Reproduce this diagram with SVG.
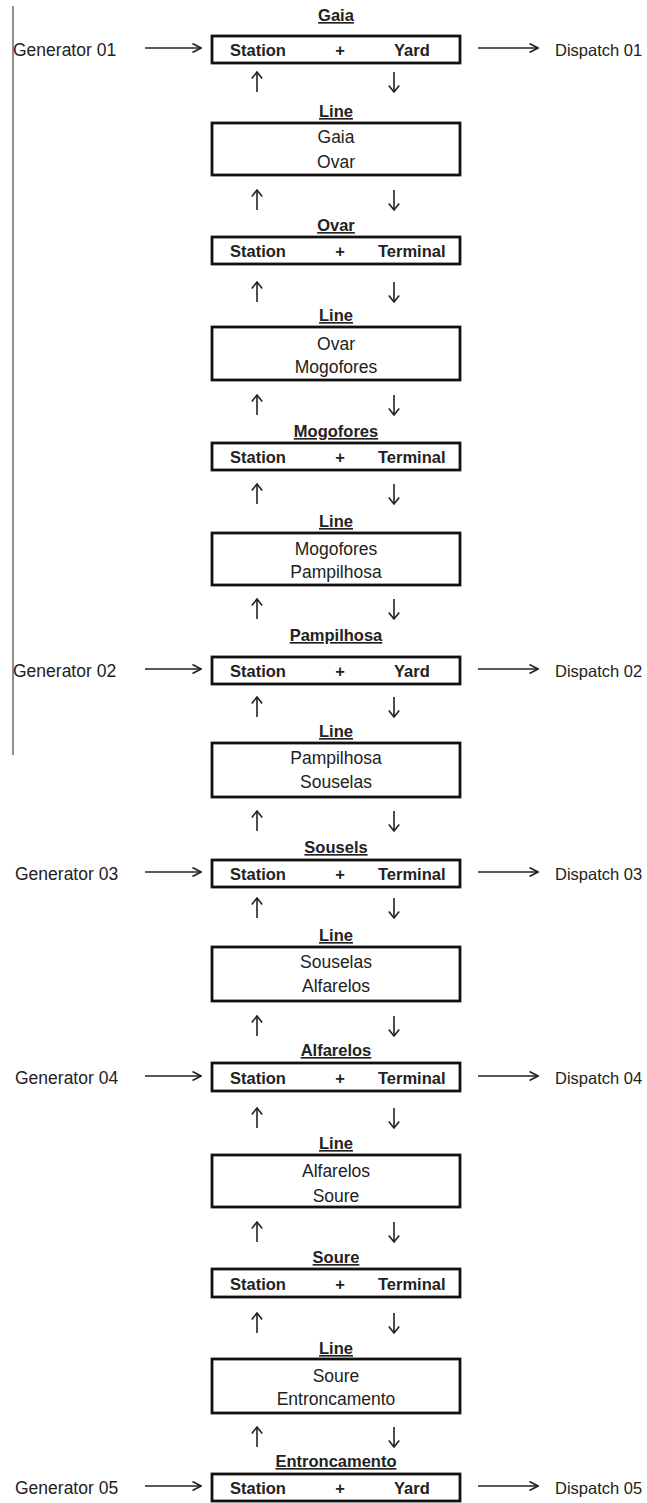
<svg xmlns="http://www.w3.org/2000/svg" width="647" height="1503" viewBox="0 0 647 1503">
<defs>
<style>
.bg{fill:#fff}
.box{fill:#fff;stroke:#111;stroke-width:2.8}
.t{font-family:"Liberation Sans",Arial,sans-serif;fill:#222}
.b{font-weight:bold;font-size:16.5px}
.r{font-size:17.5px}
.d{font-size:16.5px}
.m{text-anchor:middle}
.ttl{font-weight:bold;font-size:16.5px;text-anchor:middle;text-decoration:underline}
.arr{stroke:#222;stroke-width:1.6;fill:none;marker-end:url(#ah)}
.harr{stroke:#222;stroke-width:1.6;fill:none;marker-end:url(#ahh)}
.rule{stroke:#444;stroke-width:1.2}
</style>
<marker id="ah" viewBox="0 0 8 12" refX="7" refY="6" markerWidth="8" markerHeight="12" markerUnits="userSpaceOnUse" orient="auto">
<path d="M0.5,0.8 L7,6 L0.5,11.2" fill="none" stroke="#222" stroke-width="1.6"/>
</marker>
<marker id="ahh" viewBox="0 0 10 10" refX="9" refY="5" markerWidth="10" markerHeight="10" markerUnits="userSpaceOnUse" orient="auto">
<path d="M0.5,0.5 L9,5 L0.5,9.5" fill="none" stroke="#222" stroke-width="1.6"/>
</marker>
</defs>
<rect class="bg" width="647" height="1503"/>
<line class="rule" x1="13" y1="6" x2="13" y2="755"/>

<g id="gaia">
<text class="t ttl" x="336" y="21">Gaia</text>
<rect class="box" x="212" y="36" width="248" height="27"/>
<text class="t b" x="230" y="56">Station</text><text class="t b m" x="340" y="56">+</text><text class="t b" x="394" y="56">Yard</text>
</g>
<g id="line1">
<text class="t ttl" x="336" y="117">Line</text>
<rect class="box" x="212" y="123" width="248" height="52"/>
<text class="t r m" x="336" y="143">Gaia</text><text class="t r m" x="336" y="168">Ovar</text>
</g>
<g id="ovar">
<text class="t ttl" x="336" y="231">Ovar</text>
<rect class="box" x="212" y="237" width="248" height="27"/>
<text class="t b" x="230" y="257">Station</text><text class="t b m" x="340" y="257">+</text><text class="t b" x="378" y="257">Terminal</text>
</g>
<g id="line2">
<text class="t ttl" x="336" y="321">Line</text>
<rect class="box" x="212" y="327" width="248" height="53"/>
<text class="t r m" x="336" y="350">Ovar</text><text class="t r m" x="336" y="373">Mogofores</text>
</g>
<g id="mogofores">
<text class="t ttl" x="336" y="437">Mogofores</text>
<rect class="box" x="212" y="443" width="248" height="27"/>
<text class="t b" x="230" y="463">Station</text><text class="t b m" x="340" y="463">+</text><text class="t b" x="378" y="463">Terminal</text>
</g>
<g id="line3">
<text class="t ttl" x="336" y="527">Line</text>
<rect class="box" x="212" y="533" width="248" height="52"/>
<text class="t r m" x="336" y="555">Mogofores</text><text class="t r m" x="336" y="578">Pampilhosa</text>
</g>
<g id="pampilhosa">
<text class="t ttl" x="336" y="641">Pampilhosa</text>
<rect class="box" x="212" y="657" width="248" height="27"/>
<text class="t b" x="230" y="677">Station</text><text class="t b m" x="340" y="677">+</text><text class="t b" x="394" y="677">Yard</text>
</g>
<g id="line4">
<text class="t ttl" x="336" y="737">Line</text>
<rect class="box" x="212" y="743" width="248" height="54"/>
<text class="t r m" x="336" y="764">Pampilhosa</text><text class="t r m" x="336" y="788">Souselas</text>
</g>
<g id="sousels">
<text class="t ttl" x="336" y="853">Sousels</text>
<rect class="box" x="212" y="860" width="248" height="27"/>
<text class="t b" x="230" y="880">Station</text><text class="t b m" x="340" y="880">+</text><text class="t b" x="378" y="880">Terminal</text>
</g>
<g id="line5">
<text class="t ttl" x="336" y="941">Line</text>
<rect class="box" x="212" y="947" width="248" height="54"/>
<text class="t r m" x="336" y="968">Souselas</text><text class="t r m" x="336" y="992">Alfarelos</text>
</g>
<g id="alfarelos">
<text class="t ttl" x="336" y="1056">Alfarelos</text>
<rect class="box" x="212" y="1063" width="248" height="28"/>
<text class="t b" x="230" y="1084">Station</text><text class="t b m" x="340" y="1084">+</text><text class="t b" x="378" y="1084">Terminal</text>
</g>
<g id="line6">
<text class="t ttl" x="336" y="1149">Line</text>
<rect class="box" x="212" y="1155" width="248" height="52"/>
<text class="t r m" x="336" y="1177">Alfarelos</text><text class="t r m" x="336" y="1202">Soure</text>
</g>
<g id="soure">
<text class="t ttl" x="336" y="1263">Soure</text>
<rect class="box" x="212" y="1269" width="248" height="28"/>
<text class="t b" x="230" y="1290">Station</text><text class="t b m" x="340" y="1290">+</text><text class="t b" x="378" y="1290">Terminal</text>
</g>
<g id="line7">
<text class="t ttl" x="336" y="1354">Line</text>
<rect class="box" x="212" y="1359" width="248" height="54"/>
<text class="t r m" x="336" y="1382">Soure</text><text class="t r m" x="336" y="1405">Entroncamento</text>
</g>
<g id="entroncamento">
<text class="t ttl" x="336" y="1467">Entroncamento</text>
<rect class="box" x="212" y="1474" width="248" height="27"/>
<text class="t b" x="230" y="1494">Station</text><text class="t b m" x="340" y="1494">+</text><text class="t b" x="394" y="1494">Yard</text>
</g>

<g id="gen01"><text class="t r" x="13" y="56">Generator 01</text></g>
<g id="disp01"><text class="t d" x="555" y="56">Dispatch 01</text></g>
<g id="gen02"><text class="t r" x="13" y="677">Generator 02</text></g>
<g id="disp02"><text class="t d" x="555" y="677">Dispatch 02</text></g>
<g id="gen03"><text class="t r" x="15" y="880">Generator 03</text></g>
<g id="disp03"><text class="t d" x="555" y="880">Dispatch 03</text></g>
<g id="gen04"><text class="t r" x="15" y="1084">Generator 04</text></g>
<g id="disp04"><text class="t d" x="555" y="1084">Dispatch 04</text></g>
<g id="gen05"><text class="t r" x="15" y="1494">Generator 05</text></g>
<g id="disp05"><text class="t d" x="555" y="1494">Dispatch 05</text></g>

<g id="connectors">
<line class="harr" x1="145" y1="48" x2="201" y2="48"/>
<line class="harr" x1="478" y1="48" x2="538" y2="48"/>
<line class="harr" x1="145" y1="669" x2="201" y2="669"/>
<line class="harr" x1="478" y1="669" x2="538" y2="669"/>
<line class="harr" x1="145" y1="872" x2="201" y2="872"/>
<line class="harr" x1="478" y1="872" x2="538" y2="872"/>
<line class="harr" x1="145" y1="1076" x2="201" y2="1076"/>
<line class="harr" x1="478" y1="1076" x2="538" y2="1076"/>
<line class="harr" x1="145" y1="1486" x2="201" y2="1486"/>
<line class="harr" x1="478" y1="1486" x2="538" y2="1486"/>

<line class="arr" x1="257" y1="92" x2="257" y2="72"/>
<line class="arr" x1="394" y1="72" x2="394" y2="92"/>
<line class="arr" x1="257" y1="210" x2="257" y2="190"/>
<line class="arr" x1="394" y1="190" x2="394" y2="210"/>
<line class="arr" x1="257" y1="302" x2="257" y2="282"/>
<line class="arr" x1="394" y1="282" x2="394" y2="302"/>
<line class="arr" x1="257" y1="415" x2="257" y2="395"/>
<line class="arr" x1="394" y1="395" x2="394" y2="415"/>
<line class="arr" x1="257" y1="504" x2="257" y2="484"/>
<line class="arr" x1="394" y1="484" x2="394" y2="504"/>
<line class="arr" x1="257" y1="619" x2="257" y2="599"/>
<line class="arr" x1="394" y1="599" x2="394" y2="619"/>
<line class="arr" x1="257" y1="717" x2="257" y2="697"/>
<line class="arr" x1="394" y1="697" x2="394" y2="717"/>
<line class="arr" x1="257" y1="831" x2="257" y2="811"/>
<line class="arr" x1="394" y1="811" x2="394" y2="831"/>
<line class="arr" x1="257" y1="918" x2="257" y2="898"/>
<line class="arr" x1="394" y1="898" x2="394" y2="918"/>
<line class="arr" x1="257" y1="1036" x2="257" y2="1016"/>
<line class="arr" x1="394" y1="1016" x2="394" y2="1036"/>
<line class="arr" x1="257" y1="1128" x2="257" y2="1108"/>
<line class="arr" x1="394" y1="1108" x2="394" y2="1128"/>
<line class="arr" x1="257" y1="1242" x2="257" y2="1222"/>
<line class="arr" x1="394" y1="1222" x2="394" y2="1242"/>
<line class="arr" x1="257" y1="1333" x2="257" y2="1313"/>
<line class="arr" x1="394" y1="1313" x2="394" y2="1333"/>
<line class="arr" x1="257" y1="1447" x2="257" y2="1427"/>
<line class="arr" x1="394" y1="1427" x2="394" y2="1447"/>
</g>
</svg>
